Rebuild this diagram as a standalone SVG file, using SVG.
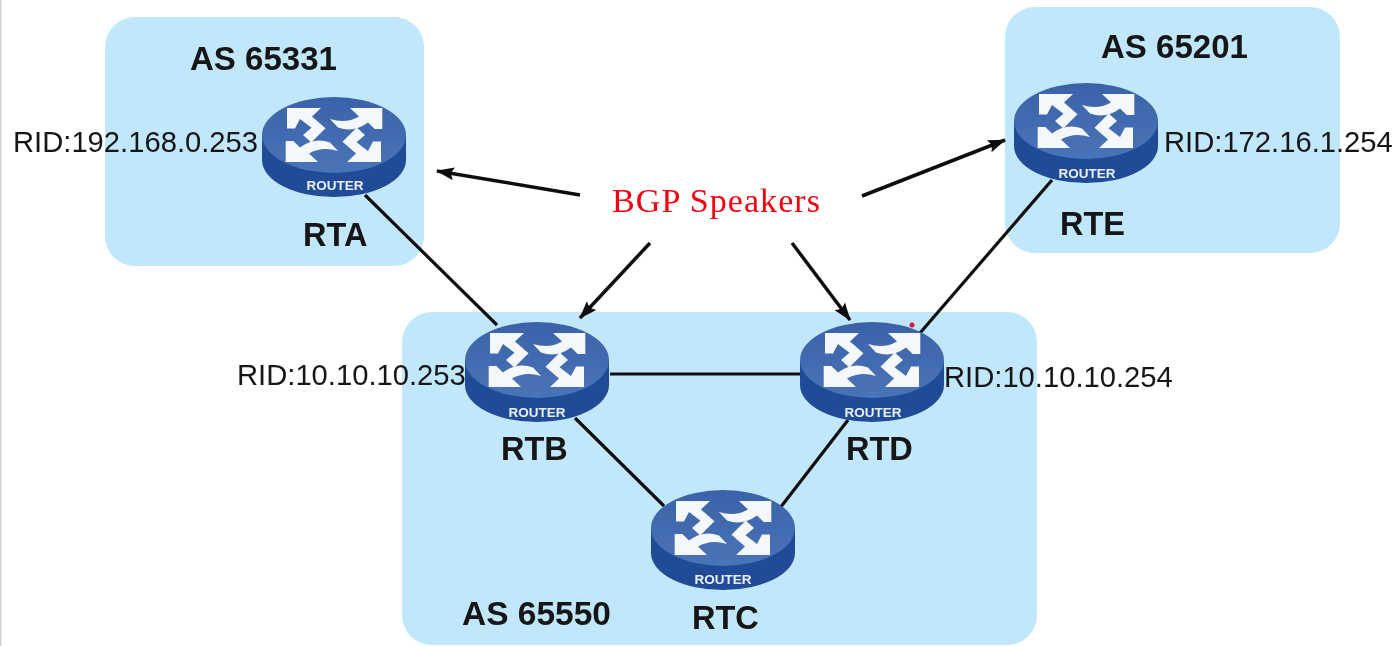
<svg xmlns="http://www.w3.org/2000/svg" width="1400" height="646" viewBox="0 0 1400 646">
<style>
.as{fill:#c0e7fc}
.t{font-family:"Liberation Sans",Arial,sans-serif;fill:#151515;font-size:29.200px}
.b{font-family:"Liberation Sans",Arial,sans-serif;fill:#151515;font-size:32.500px;font-weight:700}
.rt{font-family:"Liberation Sans",Arial,sans-serif;fill:#e8eff8;font-size:13.500px;font-weight:700;text-anchor:middle}
.l{stroke:#111;stroke-width:3.200;fill:none}
.a{stroke:#111;stroke-width:3.500;fill:none;marker-end:url(#ah)}
</style>
<defs>
<filter id="soft" x="0" y="0" width="100%" height="100%"><feGaussianBlur stdDeviation="0.500"/></filter>
<marker id="ah" markerUnits="userSpaceOnUse" markerWidth="20" markerHeight="16" refX="17" refY="8" orient="auto"><path d="M0 1.500L18 8L0 14.500L3 8Z" fill="#111"/></marker>
<linearGradient id="top" x1="0" y1="0" x2="0" y2="1"><stop offset="0" stop-color="#3a62a8"/><stop offset="1" stop-color="#4a74b8"/></linearGradient>
<g id="router">
<path d="M-72 0V25A72 37 0 0 0 72 25V0Z" fill="#204c97"/>
<ellipse rx="72" ry="38" fill="url(#top)"/>
<g fill="#f4f7fb">
<path id="p1" d="M-47-27H-13L-22-18.500L-8.500-6.700L-22.700 7.500L-31 0L-22.500-7.300L-34-16L-39-6.500H-47Z"/>
<path id="p2" d="M48.300-27H16L25-18.500Q12-11-4-16L4-7.500Q20-2 34-12.500L40.700-6H48.300Z"/>
<use href="#p1" transform="rotate(180)"/>
<use href="#p2" transform="rotate(180)"/>
</g>
</g>
</defs>
<g filter="url(#soft)">
<rect width="1400" height="646" fill="#fff"/>
<rect id="edge" width="1.500" height="646" fill="#d4d4d4"/>
<g id="as-areas">
<g id="as65331"><rect class="as" x="105" y="17" width="319" height="249" rx="30"/></g>
<g id="as65201"><rect class="as" x="1005" y="7" width="335" height="246" rx="30"/></g>
<g id="as65550"><rect class="as" x="402" y="312" width="635" height="333" rx="30"/></g>
</g>
<g id="connectors">
<path class="l" d="M365 195L497 325"/>
<path class="l" d="M1052 180L920 333"/>
<path class="l" d="M610 374H800"/>
<path class="l" d="M575 418L664 506"/>
<path class="l" d="M848 420L780 508"/>
<path class="a" d="M580 195L437 171"/>
<path class="a" d="M650 243L580 318"/>
<path class="a" d="M792 243L850 320"/>
<path class="a" d="M862 196L1005 140"/>
</g>
<g id="RTA"><use href="#router" x="334" y="135"/><text class="rt" x="335" y="190">ROUTER</text><text class="b" x="303" y="246">RTA</text><text class="t" x="13" y="152">RID:192.168.0.253</text></g>
<g id="RTE"><use href="#router" x="1086" y="121"/><text class="rt" x="1087" y="178">ROUTER</text><text class="b" x="1060" y="235">RTE</text><text class="t" x="1164" y="152">RID:172.16.1.254</text></g>
<g id="RTB"><use href="#router" x="537" y="360"/><text class="rt" x="537" y="417">ROUTER</text><text class="b" x="501" y="460">RTB</text><text class="t" x="237" y="385">RID:10.10.10.253</text></g>
<g id="RTD"><use href="#router" x="872" y="360"/><text class="rt" x="873" y="417">ROUTER</text><text class="b" x="846" y="460">RTD</text><text class="t" x="944" y="387">RID:10.10.10.254</text></g>
<g id="RTC"><use href="#router" x="723" y="528"/><text class="rt" x="723" y="584">ROUTER</text><text class="b" x="692" y="629">RTC</text></g>
<g id="labels">
<text class="b" x="190" y="70" textLength="147" lengthAdjust="spacingAndGlyphs">AS 65331</text>
<text class="b" x="1101" y="58" textLength="147" lengthAdjust="spacingAndGlyphs">AS 65201</text>
<text class="b" x="462" y="625" textLength="149" lengthAdjust="spacingAndGlyphs">AS 65550</text>
<text x="612" y="212" font-family="Liberation Serif,serif" font-size="34" fill="#f5000f" textLength="208" lengthAdjust="spacing">BGP Speakers</text>
<circle cx="912" cy="325" r="2.500" fill="#e8103a"/>
</g>
</g>
</svg>
